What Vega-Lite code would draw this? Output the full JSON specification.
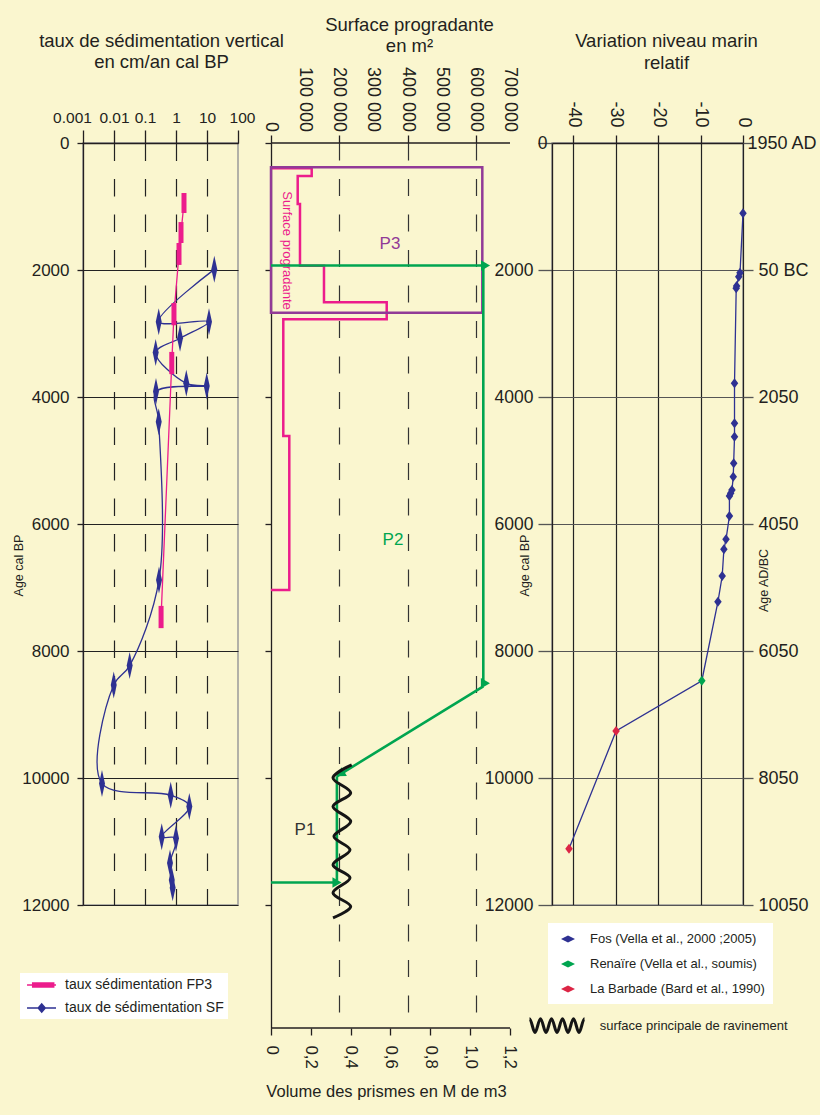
{
  "$schema": "https://vega.github.io/schema/vega-lite/v6.json",
  "background": "#faf6cf",
  "padding": {"left": 11, "top": 15, "right": 3, "bottom": 14},
  "config": {
    "font": "Liberation Sans",
    "view": {"stroke": null},
    "axis": {"labelFont": "Liberation Sans", "titleFont": "Liberation Sans", "labelColor": "#231f20", "titleColor": "#231f20", "domainColor": "#231f20", "tickColor": "#231f20", "titleFontWeight": "normal", "labelFlush": false, "labelOverlap": false, "labelBound": false, "domainWidth": 1.3, "tickWidth": 1.3},
    "legend": {"labelFont": "Liberation Sans", "labelColor": "#231f20", "labelLimit": 400}
  },
  "datasets": {
    "sf": [
      {"seq": 1, "age": 1990, "rate": 17.2},
      {"seq": 2, "age": 2815, "rate": 0.277},
      {"seq": 3, "age": 2815, "rate": 11.6},
      {"seq": 4, "age": 3075, "rate": 1.35},
      {"seq": 5, "age": 3300, "rate": 0.221},
      {"seq": 6, "age": 3785, "rate": 2.15},
      {"seq": 7, "age": 3825, "rate": 9.8},
      {"seq": 8, "age": 3915, "rate": 0.226},
      {"seq": 9, "age": 4390, "rate": 0.277},
      {"seq": 10, "age": 6880, "rate": 0.283},
      {"seq": 11, "age": 8230, "rate": 0.032},
      {"seq": 12, "age": 8535, "rate": 0.0098},
      {"seq": 13, "age": 10085, "rate": 0.0041},
      {"seq": 14, "age": 10270, "rate": 0.675},
      {"seq": 15, "age": 10450, "rate": 2.69},
      {"seq": 16, "age": 10925, "rate": 0.346},
      {"seq": 17, "age": 10950, "rate": 1.0},
      {"seq": 18, "age": 11340, "rate": 0.64},
      {"seq": 19, "age": 11605, "rate": 0.73},
      {"seq": 20, "age": 11730, "rate": 0.78}
    ],
    "fp3": [
      {"age": 945, "age_top": 787, "age_bot": 1102, "rate": 1.81},
      {"age": 1410, "age_top": 1245, "age_bot": 1575, "rate": 1.45},
      {"age": 1748, "age_top": 1575, "age_bot": 1920, "rate": 1.25},
      {"age": 2695, "age_top": 2520, "age_bot": 2870, "rate": 0.86},
      {"age": 3465, "age_top": 3290, "age_bot": 3640, "rate": 0.73},
      {"age": 7465, "age_top": 7290, "age_bot": 7640, "rate": 0.33}
    ],
    "surf": [
      {"seq": 1, "s": 0, "age": 398},
      {"seq": 2, "s": 119200, "age": 398},
      {"seq": 3, "s": 119200, "age": 520},
      {"seq": 4, "s": 78200, "age": 520},
      {"seq": 5, "s": 78200, "age": 961},
      {"seq": 6, "s": 84900, "age": 961},
      {"seq": 7, "s": 84900, "age": 1932},
      {"seq": 8, "s": 155200, "age": 1932},
      {"seq": 9, "s": 155200, "age": 2509},
      {"seq": 10, "s": 338900, "age": 2509},
      {"seq": 11, "s": 338900, "age": 2776},
      {"seq": 12, "s": 36000, "age": 2776},
      {"seq": 13, "s": 36000, "age": 4614},
      {"seq": 14, "s": 53600, "age": 4614},
      {"seq": 15, "s": 53600, "age": 7039},
      {"seq": 16, "s": 0, "age": 7039}
    ],
    "slabels": [
      {"s": 0, "lab": "0"},
      {"s": 100000, "lab": "100 000"},
      {"s": 200000, "lab": "200 000"},
      {"s": 300000, "lab": "300 000"},
      {"s": 400000, "lab": "400 000"},
      {"s": 500000, "lab": "500 000"},
      {"s": 600000, "lab": "600 000"},
      {"s": 700000, "lab": "700 000"}
    ],
    "topline": [{"s0": 0, "s1": 700000, "age": 0}],
    "bottomline": [{"v0": 0, "v1": 1.2, "age": 13940}],
    "p3box": [{"s0": 0, "s1": 618900, "a0": 383, "a1": 2672}],
    "ptext": [{"s": 46000, "age": 1693, "t": "Surface progradante"}],
    "plabels": [
      {"s": 348500, "age": 1586, "label": "P3"},
      {"s": 357300, "age": 6252, "label": "P2"},
      {"s": 99600, "age": 10819, "label": "P1"}
    ],
    "green": [
      {"sa": 0, "aa": 1930, "sb": 621000, "ab": 1930},
      {"sa": 621800, "aa": 1930, "sb": 621800, "ab": 8510},
      {"sa": 621800, "aa": 8560, "sb": 193000, "ab": 9975},
      {"sa": 193000, "aa": 9975, "sb": 193000, "ab": 11620},
      {"sa": 0, "aa": 11649, "sb": 183000, "ab": 11649}
    ],
    "heads": [
      {"s": 628300, "age": 1930},
      {"s": 628000, "age": 8509},
      {"s": 193300, "age": 11649}
    ],
    "diaghead": [{"s": 203000, "age": 9939}],
    "wave": [
      {"seq": 1, "s": 236400, "age": 9795},
      {"seq": 2, "s": 181600, "age": 10000},
      {"seq": 3, "s": 233400, "age": 10236},
      {"seq": 4, "s": 181600, "age": 10452},
      {"seq": 5, "s": 233400, "age": 10688},
      {"seq": 6, "s": 184500, "age": 10924},
      {"seq": 7, "s": 231400, "age": 11134},
      {"seq": 8, "s": 181600, "age": 11370},
      {"seq": 9, "s": 231400, "age": 11575},
      {"seq": 10, "s": 181600, "age": 11811},
      {"seq": 11, "s": 233400, "age": 12027},
      {"seq": 12, "s": 181600, "age": 12205}
    ],
    "sea": [
      {"age": 1107, "lvl": 0, "source": "Fos (Vella et al., 2000 ;2005)"},
      {"age": 2042, "lvl": -0.7, "source": "Fos (Vella et al., 2000 ;2005)"},
      {"age": 2106, "lvl": -1.0, "source": "Fos (Vella et al., 2000 ;2005)"},
      {"age": 2252, "lvl": -1.5, "source": "Fos (Vella et al., 2000 ;2005)"},
      {"age": 2288, "lvl": -1.6, "source": "Fos (Vella et al., 2000 ;2005)"},
      {"age": 3785, "lvl": -2.0, "source": "Fos (Vella et al., 2000 ;2005)"},
      {"age": 4415, "lvl": -2.0, "source": "Fos (Vella et al., 2000 ;2005)"},
      {"age": 4625, "lvl": -2.0, "source": "Fos (Vella et al., 2000 ;2005)"},
      {"age": 5045, "lvl": -2.2, "source": "Fos (Vella et al., 2000 ;2005)"},
      {"age": 5255, "lvl": -2.3, "source": "Fos (Vella et al., 2000 ;2005)"},
      {"age": 5465, "lvl": -2.6, "source": "Fos (Vella et al., 2000 ;2005)"},
      {"age": 5517, "lvl": -2.9, "source": "Fos (Vella et al., 2000 ;2005)"},
      {"age": 5560, "lvl": -3.2, "source": "Fos (Vella et al., 2000 ;2005)"},
      {"age": 5874, "lvl": -3.2, "source": "Fos (Vella et al., 2000 ;2005)"},
      {"age": 6241, "lvl": -4.0, "source": "Fos (Vella et al., 2000 ;2005)"},
      {"age": 6398, "lvl": -4.5, "source": "Fos (Vella et al., 2000 ;2005)"},
      {"age": 6819, "lvl": -4.9, "source": "Fos (Vella et al., 2000 ;2005)"},
      {"age": 7224, "lvl": -5.9, "source": "Fos (Vella et al., 2000 ;2005)"},
      {"age": 8468, "lvl": -9.7, "source": "Renaïre (Vella et al., soumis)"},
      {"age": 9260, "lvl": -29.9, "source": "La Barbade (Bard et al., 1990)"},
      {"age": 11113, "lvl": -41.0, "source": "La Barbade (Bard et al., 1990)"}
    ]
  },
  "hconcat": [
    {
      "width": 155,
      "height": 762,
      "view": {"stroke": "#9a9a9a", "strokeWidth": 1.5},
      "layer": [
        {
          "data": {"name": "sf"},
          "mark": {"type": "line", "interpolate": "catmull-rom", "strokeWidth": 1.3},
          "encoding": {
            "x": {"field": "rate", "type": "quantitative", "scale": {"type": "log", "domain": [0.001, 100], "nice": false},
              "axis": {"orient": "top", "values": [0.001, 0.01, 0.1, 1, 10, 100], "format": "~g", "labelFontSize": 15.5, "labelOverlap": false, "tickSize": 13, "labelPadding": 5,
                "labelOffset": {"condition": [{"test": "datum.value <= 0.001", "value": -11}, {"test": "datum.value >= 100", "value": 4}], "value": 0},
                "grid": true, "gridDash": [17.5, 18], "gridColor": "#222", "gridWidth": 1.2,
                "gridOpacity": {"condition": {"test": "datum.value <= 0.001 || datum.value >= 100", "value": 0}, "value": 1},
                "title": ["taux de sédimentation vertical", "en cm/an cal BP"], "titleFontSize": 18.5, "titleLineHeight": 20.5,
                "titleX": 78, "titleY": -96.5, "titleBaseline": "alphabetic", "titleAlign": "center", "titleAngle": 0}},
            "y": {"field": "age", "type": "quantitative", "scale": {"domain": [0, 12000], "reverse": true, "nice": false, "zero": false},
              "axis": {"orient": "left", "values": [0, 2000, 4000, 6000, 8000, 10000, 12000], "format": "d", "labelFontSize": 17, "labelOverlap": false, "tickSize": 6, "labelPadding": 8,
                "grid": true, "gridColor": "#222", "gridWidth": 1.2,
                "title": "Age cal BP", "titleFontSize": 12.5, "titleX": -65, "titleY": 422, "titleBaseline": "middle", "titleAlign": "center", "titleAngle": 270}},
            "order": {"field": "seq", "type": "quantitative"},
            "color": {"datum": "taux de sédimentation SF", "type": "nominal",
              "scale": {"domain": ["taux sédimentation FP3", "taux de sédimentation SF"], "range": ["#ec1c8c", "#2e3192"]},
              "legend": {"orient": "none", "legendX": -63, "legendY": 830, "title": null, "fillColor": "white", "padding": 4,
                "symbolSize": 196, "labelOffset": 25, "labelFontSize": 14, "rowPadding": 8, "symbolStrokeWidth": 1.5, "labelLimit": 400,
                "encode": {"symbols": {"update": {
                  "shape": {"signal": "datum.value === 'taux sédimentation FP3' ? 'M-0.71,0H3.43M0.1,-0.29H3.1V0.29H0.1Z' : 'M-0.71,0H3.43M1.39,-0.57L1.89,0L1.39,0.57L0.89,0Z'"},
                  "fill": {"signal": "datum.value === 'taux sédimentation FP3' ? '#ec1c8c' : '#2e3192'"},
                  "stroke": {"signal": "datum.value === 'taux sédimentation FP3' ? '#ec1c8c' : '#2e3192'"},
                  "fillOpacity": {"value": 1},
                  "strokeOpacity": {"value": 1},
                  "opacity": {"value": 1}
                }}}}}
          }
        },
        {
          "data": {"name": "sf"},
          "mark": {"type": "point", "filled": true, "opacity": 1, "shape": "M0,-1L0.22,0L0,1L-0.22,0Z", "size": 729},
          "encoding": {
            "x": {"field": "rate", "type": "quantitative", "scale": {"type": "log", "domain": [0.001, 100], "nice": false}},
            "y": {"field": "age", "type": "quantitative", "scale": {"domain": [0, 12000], "reverse": true, "nice": false, "zero": false}},
            "color": {"datum": "taux de sédimentation SF", "type": "nominal", "scale": {"domain": ["taux sédimentation FP3", "taux de sédimentation SF"], "range": ["#ec1c8c", "#2e3192"]}}
          }
        },
        {
          "data": {"name": "fp3"},
          "mark": {"type": "line", "strokeWidth": 1.3},
          "encoding": {
            "x": {"field": "rate", "type": "quantitative", "scale": {"type": "log", "domain": [0.001, 100], "nice": false}},
            "y": {"field": "age", "type": "quantitative", "scale": {"domain": [0, 12000], "reverse": true, "nice": false, "zero": false}},
            "order": {"field": "age", "type": "quantitative"},
            "color": {"datum": "taux sédimentation FP3", "type": "nominal", "scale": {"domain": ["taux sédimentation FP3", "taux de sédimentation SF"], "range": ["#ec1c8c", "#2e3192"]}}
          }
        },
        {
          "data": {"name": "fp3"},
          "mark": {"type": "rule", "strokeWidth": 5, "strokeCap": "butt"},
          "encoding": {
            "x": {"field": "rate", "type": "quantitative", "scale": {"type": "log", "domain": [0.001, 100], "nice": false}},
            "y": {"field": "age_top", "type": "quantitative", "scale": {"domain": [0, 12000], "reverse": true, "nice": false, "zero": false}},
            "y2": {"field": "age_bot"},
            "color": {"datum": "taux sédimentation FP3", "type": "nominal", "scale": {"domain": ["taux sédimentation FP3", "taux de sédimentation SF"], "range": ["#ec1c8c", "#2e3192"]}}
          }
        }
      ]
    },
    {
      "width": 248,
      "height": 885,
      "layer": [
        {
          "layer": [
            {
              "data": {"name": "surf"},
              "mark": {"type": "line", "strokeWidth": 2.5, "color": "#ec1c8c", "strokeJoin": "miter"},
              "encoding": {
                "x": {"field": "s", "type": "quantitative", "scale": {"domain": [0, 726360], "nice": false, "zero": false},
                  "axis": {"orient": "top", "values": [0, 100000, 200000, 300000, 400000, 500000, 600000, 700000], "domain": false, "labels": false, "tickSize": 8,
                    "grid": true, "gridDash": [17, 18.5], "gridColor": "#333", "gridWidth": 1.2,
                    "gridOpacity": {"condition": {"test": "datum.value == 0 || datum.value == 700000", "value": 0}, "value": 1},
                    "title": ["Surface progradante", "en m²"], "titleFontSize": 18.5, "titleLineHeight": 21.5,
                    "titleX": 138, "titleY": -113, "titleBaseline": "alphabetic", "titleAlign": "center", "titleAngle": 0}},
                "y": {"field": "age", "type": "quantitative", "scale": {"domain": [0, 13940], "reverse": true, "nice": false, "zero": false},
                  "axis": {"orient": "left", "values": [0, 2000, 4000, 6000, 8000, 10000, 12000], "labels": false, "tickSize": 6, "grid": false, "title": null}},
                "order": {"field": "seq", "type": "quantitative"}
              }
            },
            {
              "data": {"name": "slabels"},
              "mark": {"type": "text", "angle": 90, "align": "right", "baseline": "middle", "dx": -11, "fontSize": 18, "color": "#231f20"},
              "encoding": {
                "x": {"field": "s", "type": "quantitative", "scale": {"domain": [0, 726360], "nice": false, "zero": false}},
                "y": {"datum": 0, "type": "quantitative", "scale": {"domain": [0, 13940], "reverse": true, "nice": false, "zero": false}},
                "text": {"field": "lab"}
              }
            },
            {
              "data": {"name": "topline"},
              "mark": {"type": "rule", "strokeWidth": 1.3, "color": "#231f20"},
              "encoding": {
                "x": {"field": "s0", "type": "quantitative", "scale": {"domain": [0, 726360], "nice": false, "zero": false}},
                "x2": {"field": "s1"},
                "y": {"field": "age", "type": "quantitative", "scale": {"domain": [0, 13940], "reverse": true, "nice": false, "zero": false}}
              }
            },
            {
              "data": {"name": "p3box"},
              "mark": {"type": "rect", "fill": "transparent", "stroke": "#913a97", "strokeWidth": 2.5},
              "encoding": {
                "x": {"field": "s0", "type": "quantitative", "scale": {"domain": [0, 726360], "nice": false, "zero": false}},
                "x2": {"field": "s1"},
                "y": {"field": "a0", "type": "quantitative", "scale": {"domain": [0, 13940], "reverse": true, "nice": false, "zero": false}},
                "y2": {"field": "a1"}
              }
            },
            {
              "data": {"name": "ptext"},
              "mark": {"type": "text", "angle": 90, "fontSize": 13, "color": "#ec1c8c"},
              "encoding": {
                "x": {"field": "s", "type": "quantitative", "scale": {"domain": [0, 726360], "nice": false, "zero": false}},
                "y": {"field": "age", "type": "quantitative", "scale": {"domain": [0, 13940], "reverse": true, "nice": false, "zero": false}},
                "text": {"field": "t"}
              }
            },
            {
              "data": {"name": "plabels"},
              "mark": {"type": "text", "fontSize": 17},
              "encoding": {
                "x": {"field": "s", "type": "quantitative", "scale": {"domain": [0, 726360], "nice": false, "zero": false}},
                "y": {"field": "age", "type": "quantitative", "scale": {"domain": [0, 13940], "reverse": true, "nice": false, "zero": false}},
                "text": {"field": "label"},
                "fill": {"field": "label", "type": "nominal", "scale": {"domain": ["P1", "P2", "P3"], "range": ["#333333", "#00a550", "#913a97"]}, "legend": null}
              }
            },
            {
              "data": {"name": "green"},
              "mark": {"type": "rule", "strokeWidth": 2.6, "color": "#00a550"},
              "encoding": {
                "x": {"field": "sa", "type": "quantitative", "scale": {"domain": [0, 726360], "nice": false, "zero": false}},
                "x2": {"field": "sb"},
                "y": {"field": "aa", "type": "quantitative", "scale": {"domain": [0, 13940], "reverse": true, "nice": false, "zero": false}},
                "y2": {"field": "ab"}
              }
            },
            {
              "data": {"name": "heads"},
              "mark": {"type": "point", "shape": "triangle-right", "filled": true, "opacity": 1, "size": 110, "color": "#00a550"},
              "encoding": {
                "x": {"field": "s", "type": "quantitative", "scale": {"domain": [0, 726360], "nice": false, "zero": false}},
                "y": {"field": "age", "type": "quantitative", "scale": {"domain": [0, 13940], "reverse": true, "nice": false, "zero": false}}
              }
            },
            {
              "data": {"name": "diaghead"},
              "mark": {"type": "point", "shape": "triangle-up", "angle": 238.6, "filled": true, "opacity": 1, "size": 110, "color": "#00a550"},
              "encoding": {
                "x": {"field": "s", "type": "quantitative", "scale": {"domain": [0, 726360], "nice": false, "zero": false}},
                "y": {"field": "age", "type": "quantitative", "scale": {"domain": [0, 13940], "reverse": true, "nice": false, "zero": false}}
              }
            },
            {
              "data": {"name": "wave"},
              "mark": {"type": "line", "interpolate": "catmull-rom", "strokeWidth": 3},
              "encoding": {
                "x": {"field": "s", "type": "quantitative", "scale": {"domain": [0, 726360], "nice": false, "zero": false}},
                "y": {"field": "age", "type": "quantitative", "scale": {"domain": [0, 13940], "reverse": true, "nice": false, "zero": false}},
                "order": {"field": "seq", "type": "quantitative"},
                "color": {"datum": "surface principale de ravinement", "type": "nominal",
                  "scale": {"domain": ["surface principale de ravinement"], "range": ["#151515"]},
                  "legend": {"orient": "none", "legendX": 257, "legendY": 853.5, "title": null, "padding": 0, "labelLimit": 400,
                    "symbolType": "M-1,-0.25C-0.93,-0.25,-0.87,0.25,-0.8,0.25C-0.73,0.25,-0.67,-0.25,-0.6,-0.25C-0.53,-0.25,-0.47,0.25,-0.4,0.25C-0.33,0.25,-0.27,-0.25,-0.2,-0.25C-0.13,-0.25,-0.07,0.25,0,0.25C0.07,0.25,0.13,-0.25,0.2,-0.25C0.27,-0.25,0.33,0.25,0.4,0.25C0.47,0.25,0.53,-0.25,0.6,-0.25C0.67,-0.25,0.73,0.25,0.8,0.25C0.87,0.25,0.93,-0.25,1,-0.25",
                    "symbolSize": 3025, "symbolStrokeWidth": 3, "symbolFillColor": "transparent", "symbolStrokeColor": "#151515",
                    "labelOffset": 13.7, "labelFontSize": 13}}
              }
            }
          ]
        },
        {
          "data": {"name": "bottomline"},
          "mark": {"type": "rule", "strokeWidth": 1.3, "color": "#231f20"},
          "encoding": {
            "x": {"field": "v0", "type": "quantitative", "scale": {"domain": [0, 1.24519], "nice": false, "zero": false},
              "axis": {"orient": "bottom", "values": [0, 0.2, 0.4, 0.6, 0.8, 1, 1.2], "domain": false, "labelOverlap": false,
                "labelExpr": "datum.value == 0 ? '0' : replace(format(datum.value, '.1f'), '.', ',')",
                "labelAngle": 90, "labelFontSize": 16.8, "tickSize": 7, "labelPadding": 10, "grid": false,
                "title": "Volume des prismes en M de m3", "titleFontSize": 16.5, "titleX": 115, "titleY": 68.7,
                "titleBaseline": "alphabetic", "titleAlign": "center", "titleAngle": 0}},
            "x2": {"field": "v1"},
            "y": {"field": "age", "type": "quantitative", "scale": {"domain": [0, 13940], "reverse": true, "nice": false, "zero": false}}
          }
        }
      ],
      "resolve": {"scale": {"x": "independent"}}
    },
    {
      "width": 191,
      "height": 762,
      "view": {"stroke": "#9a9a9a", "strokeWidth": 1.5},
      "layer": [
        {
          "layer": [
            {
              "data": {"name": "sea"},
              "mark": {"type": "line", "color": "#2e3192", "strokeWidth": 1.3},
              "encoding": {
                "x": {"field": "lvl", "type": "quantitative", "scale": {"domain": [-45, 0], "nice": false, "zero": false},
                  "axis": {"orient": "top", "values": [-40, -35, -30, -25, -20, -15, -10, -5, 0], "labelOverlap": false,
                    "labelExpr": "datum.value % 10 != 0 ? '' : (datum.value < 0 ? '-' + (-datum.value) : '0')",
                    "labelAngle": 90, "labelFontSize": 18, "tickSize": 8, "labelPadding": 8,
                    "grid": true, "gridColor": "#222", "gridWidth": 1.2,
                    "title": ["Variation niveau marin", "relatif"], "titleFontSize": 18.5, "titleLineHeight": 21.5,
                    "titleX": 114, "titleY": -96.5, "titleBaseline": "alphabetic", "titleAlign": "center", "titleAngle": 0}},
                "y": {"field": "age", "type": "quantitative", "scale": {"domain": [0, 12000], "reverse": true, "nice": false, "zero": false},
                  "axis": {"orient": "left", "values": [0, 2000, 4000, 6000, 8000, 10000, 12000], "format": "d", "labelFontSize": 17.5, "labelOverlap": false,
                    "tickSize": 14, "tickColor": "#555", "grid": true, "gridColor": "#555", "gridWidth": 1.2,
                    "labelPadding": {"condition": {"test": "datum.value == 0", "value": -9}, "value": 5},
                    "title": "Age cal BP", "titleFontSize": 12.5, "titleX": -28, "titleY": 422, "titleBaseline": "middle", "titleAlign": "center", "titleAngle": 270}},
                "order": {"field": "age", "type": "quantitative"}
              }
            },
            {
              "data": {"name": "sea"},
              "mark": {"type": "point", "filled": true, "opacity": 1, "shape": "M0,-1L0.75,0L0,1L-0.75,0Z", "size": 100},
              "encoding": {
                "x": {"field": "lvl", "type": "quantitative", "scale": {"domain": [-45, 0], "nice": false, "zero": false}},
                "y": {"field": "age", "type": "quantitative", "scale": {"domain": [0, 12000], "reverse": true, "nice": false, "zero": false}},
                "color": {"field": "source", "type": "nominal",
                  "scale": {"domain": ["Fos (Vella et al., 2000 ;2005)", "Renaïre (Vella et al., soumis)", "La Barbade (Bard et al., 1990)"], "range": ["#2e3192", "#00a550", "#dc2545"]},
                  "legend": {"orient": "none", "legendX": -4, "legendY": 780, "title": null, "fillColor": "white", "padding": 8, "labelLimit": 400,
                    "symbolType": "M-0.43,0L0.57,-0.5L1.57,0L0.57,0.5Z", "symbolSize": 196, "labelOffset": 18, "labelFontSize": 13, "rowPadding": 10, "symbolOpacity": 1}}
              }
            }
          ]
        },
        {
          "data": {"name": "sea"},
          "mark": {"type": "point", "opacity": 0},
          "encoding": {
            "x": {"field": "lvl", "type": "quantitative", "scale": {"domain": [-45, 0], "nice": false, "zero": false}},
            "y": {"field": "age", "type": "quantitative", "scale": {"domain": [0, 12000], "reverse": true, "nice": false, "zero": false},
              "axis": {"orient": "right", "values": [0, 2000, 4000, 6000, 8000, 10000, 12000], "labelOverlap": false,
                "labelExpr": "datum.value == 0 ? '1950 AD' : datum.value == 2000 ? '50 BC' : '' + (datum.value - 1950)",
                "labelFontSize": 18, "tickSize": 10, "tickColor": "#555", "domain": false, "grid": false,
                "labelPadding": {"condition": {"test": "datum.value == 0", "value": -6}, "value": 5},
                "title": "Age AD/BC", "titleFontSize": 12.5, "titleX": 20, "titleY": 437, "titleBaseline": "middle", "titleAlign": "center", "titleAngle": 270}}
          }
        }
      ],
      "resolve": {"scale": {"y": "independent"}}
    }
  ],
  "spacing": 33,
  "bounds": "flush",
  "resolve": {"scale": {"color": "independent", "fill": "independent"}, "legend": {"color": "independent"}}
}
